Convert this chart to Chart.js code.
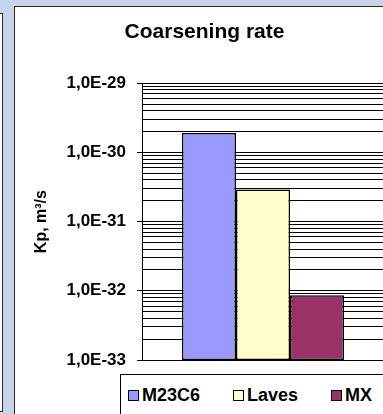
<!DOCTYPE html>
<html>
<head>
<meta charset="utf-8">
<title>Coarsening rate</title>
<script src="https://cdn.jsdelivr.net/npm/chart.js@4.4.1/dist/chart.umd.min.js"></script>
<style>
  html, body {
    margin: 0; padding: 0; width: 383px; height: 414px; overflow: hidden;
    background: #c6d3ea;
    font-family: 'Liberation Sans', Arial, sans-serif;
  }
  #side {
    position: absolute; left: -20px; top: 13px; width: 21px; height: 397px;
    background: #fff; border: 1px solid #2a2a2a;
  }
  #panel {
    position: absolute; left: 14px; top: 6px; width: 420px; height: 440px;
    background: #fff; border: 1px solid #262626;
  }
  #chart { position: absolute; left: 0; top: 0; }
  #legend {
    position: absolute; left: 105px; top: 367px; width: 400px; height: 60px;
    background: #fff; border: 1px solid #000;
    box-sizing: border-box; padding: 9px 0 0 7px;
    display: flex; align-items: flex-start;
  }
  #legend .item { display: flex; align-items: center; margin-right: 33px; height: 22px; }
  #legend .sw { width: 9px; height: 9px; border: 1px solid #000; }
  #legend .txt { margin-left: 3px; font: bold 18px 'Liberation Sans', Arial, sans-serif; color: #000; line-height: 22px; }
</style>
</head>
<body>
<div id="side"></div>
<div id="panel">
  <canvas id="chart" width="380" height="407" style="width:380px;height:407px"></canvas>
  <div id="legend"></div>
</div>
<script>
// Coarsening rate constants Kp (m^3/s) of the precipitate phases
const categories = [''];
const seriesNames = ['M23C6', 'Laves', 'MX'];
const m23c6 = [1.9e-30];
const laves = [2.9e-31];
const mx = [8.6e-33];
const seriesData = [m23c6, laves, mx];
const seriesColors = ['#9999ff', '#ffffcc', '#993366'];

// Logarithmic axis: decades and their printed labels
const decades = [-33, -32, -31, -30, -29];
const tickLabels = ['1,0E-33', '1,0E-32', '1,0E-31', '1,0E-30', '1,0E-29'];

// Gridline positions: 1..9 within each decade, plus the top decade
const tickValues = [];
decades.forEach((d, i) => {
  if (i < decades.length - 1) {
    for (let m = 1; m <= 9; m++) tickValues.push(m * Math.pow(10, d));
  } else {
    tickValues.push(Math.pow(10, d));
  }
});

const FONT = "'Liberation Sans', Arial, sans-serif";

function decadeIndex(v) {
  const l = Math.log10(v);
  const r = Math.round(l);
  if (Math.abs(l - r) > 1e-6) return -1;
  return decades.indexOf(r);
}

new Chart(document.getElementById('chart'), {
  type: 'bar',
  data: {
    labels: categories,
    datasets: seriesNames.map((name, i) => ({
      label: name,
      data: seriesData[i],
      backgroundColor: seriesColors[i],
      borderColor: '#000',
      borderWidth: 1.5,
      borderSkipped: false
    }))
  },
  options: {
    responsive: false,
    animation: false,
    devicePixelRatio: 1,
    layout: { padding: { left: 10, right: 11, top: 0, bottom: 0 } },
    datasets: { bar: { categoryPercentage: 0.67, barPercentage: 1 } },
    plugins: {
      legend: { display: false },
      tooltip: { enabled: false },
      title: {
        display: true,
        text: 'Coarsening rate',
        color: '#000',
        font: { family: FONT, size: 21, weight: 'bold' },
        padding: { top: 13, bottom: 38 }
      }
    },
    scales: {
      x: {
        type: 'category',
        grid: { display: false },
        border: { display: true, color: '#000', width: 1 },
        ticks: { display: false },
        afterFit(scale) { scale.height = 54; }
      },
      y: {
        type: 'logarithmic',
        min: 1e-33,
        max: 1e-29,
        afterBuildTicks(scale) { scale.ticks = tickValues.map(v => ({ value: v })); },
        afterFit(scale) { scale.width = 117; },
        ticks: {
          autoSkip: false,
          padding: 11,
          color: '#000',
          font: { family: FONT, size: 17, weight: 'bold' },
          callback(value) {
            const i = decadeIndex(value);
            return i >= 0 ? tickLabels[i] : '';
          }
        },
        grid: {
          color: '#000',
          lineWidth: 1,
          tickLength: 5,
          tickColor(ctx) {
            return ctx.tick && decadeIndex(ctx.tick.value) >= 0 ? '#000' : 'rgba(0,0,0,0)';
          }
        },
        border: { display: true, color: '#000', width: 1 },
        title: {
          display: true,
          text: 'Kp, m³/s',
          color: '#000',
          font: { family: FONT, size: 16, weight: 'bold' },
          padding: { top: 7, bottom: 0 }
        }
      }
    }
  }
});

// Legend entries for the three phases
const legend = document.getElementById('legend');
seriesNames.forEach((name, i) => {
  const item = document.createElement('div');
  item.className = 'item';
  const sw = document.createElement('span');
  sw.className = 'sw';
  sw.style.background = seriesColors[i];
  const txt = document.createElement('span');
  txt.className = 'txt';
  txt.textContent = name;
  item.appendChild(sw);
  item.appendChild(txt);
  legend.appendChild(item);
});
</script>
</body>
</html>
